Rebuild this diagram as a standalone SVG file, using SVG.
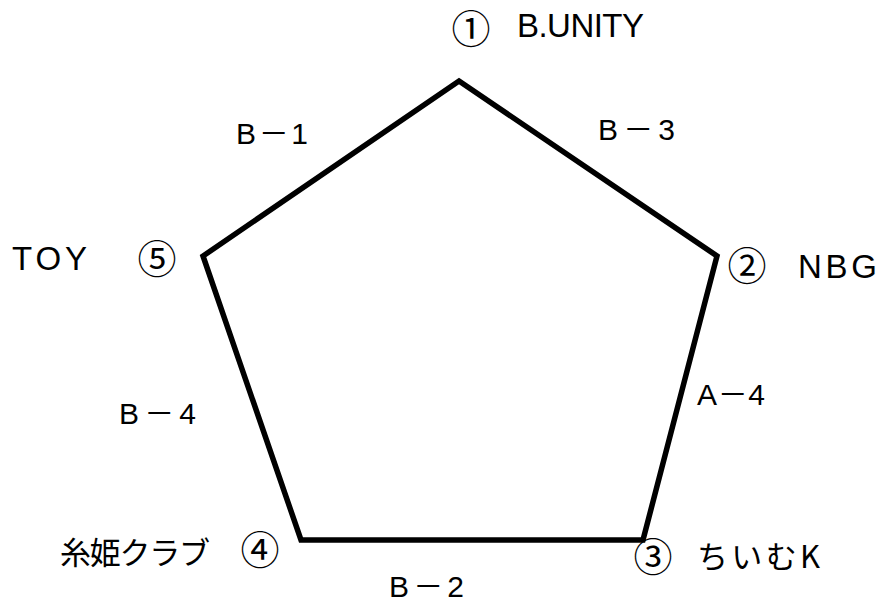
<svg xmlns="http://www.w3.org/2000/svg" width="887" height="603" viewBox="0 0 887 603">
<style>
.bg{fill:#fff}
.edge{fill:none;stroke:#000;stroke-width:5.5;stroke-linejoin:miter}
.num{font-family:"Noto Sans CJK JP","DejaVu Sans",sans-serif;font-size:39px;fill:#000;text-anchor:middle}
.name{font-family:"Liberation Sans","Noto Sans CJK JP",sans-serif;font-size:33px;fill:#000}
.jp{font-family:"Noto Sans CJK JP",sans-serif;font-size:31px;fill:#000}
.lab{font-family:"Liberation Sans","Noto Sans CJK JP",sans-serif;font-size:30px;fill:#000}
</style>
<rect class="bg" width="887" height="603"/>
<g id="connectors">
<path class="edge" d="M459,81 L717,256 L643,540 L301,540 L203,256 Z"/>
</g>
<g id="edge-labels">
<text class="lab" x="236" y="144" textLength="72" lengthAdjust="spacing">B－1</text>
<text class="lab" x="598" y="140" textLength="77" lengthAdjust="spacing">B－3</text>
<text class="lab" x="119" y="424" textLength="77" lengthAdjust="spacing">B－4</text>
<text class="lab" x="697" y="405" textLength="68" lengthAdjust="spacing">A－4</text>
<text class="lab" x="389" y="597" textLength="75" lengthAdjust="spacing">B－2</text>
</g>
<g id="node1">
<text class="num" x="471" y="43">①</text>
<text class="name" x="517" y="37" textLength="127" lengthAdjust="spacing">B.UNITY</text>
</g>
<g id="node2">
<text class="num" x="747" y="280">②</text>
<text class="name" x="798" y="278" textLength="79" lengthAdjust="spacing">NBG</text>
</g>
<g id="node3">
<text class="num" x="653" y="571">③</text>
<text class="jp" x="697" y="568" textLength="123" lengthAdjust="spacing">ちいむK</text>
</g>
<g id="node4">
<text class="jp" x="60" y="564" textLength="150" lengthAdjust="spacing">糸姫クラブ</text>
<text class="num" x="260" y="564">④</text>
</g>
<g id="node5">
<text class="name" x="12" y="270" textLength="75" lengthAdjust="spacing">TOY</text>
<text class="num" x="157" y="273">⑤</text>
</g>
</svg>
